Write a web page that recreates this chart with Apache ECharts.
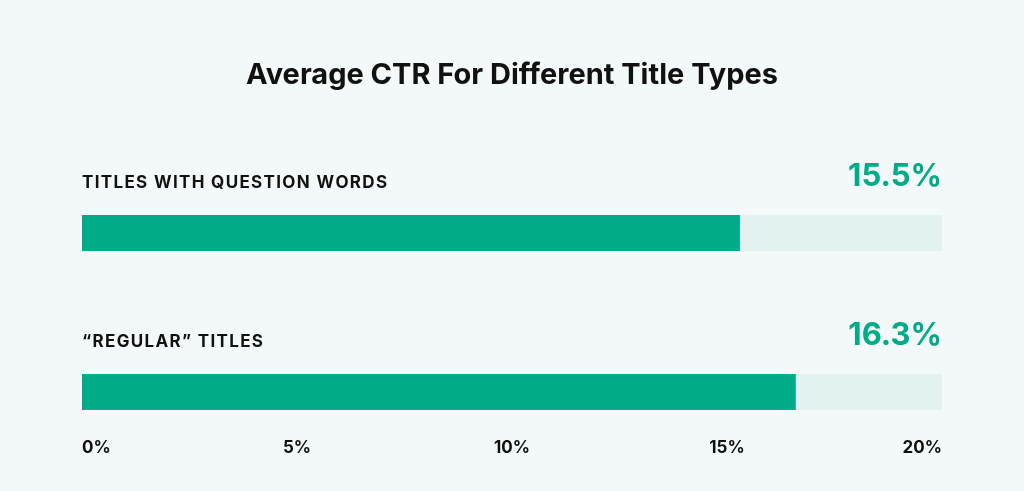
<!DOCTYPE html><html><head><meta charset="utf-8"><script src="https://cdn.jsdelivr.net/npm/echarts@6/dist/echarts.min.js"></script>
<style>html,body{margin:0;background:#f3f9f9}#c{width:1024px;height:491px}</style></head><body><div id="c"></div><script>
const categories=['TITLES WITH QUESTION WORDS','“REGULAR” TITLES'];
const barValues=[15.3,16.6];
const valueLabels=['15.5%','16.3%'];
const trackMax=[20,20];
const tickLabels=['0%','5%','10%','15%','20%'];
const green='#00ab87';
const chart=echarts.init(document.getElementById('c'));
chart.setOption({
 backgroundColor:'#f3f9f9',
 title:{text:'Average CTR For Different Title Types',left:'center',top:56,textStyle:{fontFamily:'Inter',fontSize:29,fontWeight:'bold',color:'#111'}},
 grid:{left:82,right:82,top:153.5,bottom:19.5},
 xAxis:{type:'value',min:0,max:20,interval:5,offset:-40,splitLine:{show:false},axisLine:{show:false},axisTick:{show:false},
  axisLabel:{margin:8,fontFamily:'Inter',fontSize:17,fontWeight:'bold',color:'#111',
   formatter:(v)=>tickLabels[v/5],alignMinLabel:'left',alignMaxLabel:'right'}},
 yAxis:{type:'category',data:categories,inverse:true,show:false},
 series:[
  {type:'bar',data:trackMax,barWidth:36,itemStyle:{color:'#e2f3ef'},silent:true,
   label:{show:true,position:['100%',-38],align:'right',verticalAlign:'middle',fontFamily:'Inter',fontSize:31,fontWeight:'bold',color:green,
    formatter:(p)=>valueLabels[p.dataIndex]}},
  {type:'bar',data:barValues,barWidth:36,barGap:'-100%',itemStyle:{color:green},
   label:{show:true,position:[0,-32],align:'left',verticalAlign:'middle',fontFamily:'Inter',fontSize:17,fontWeight:'bold',color:'#111',
    formatter:(p)=>categories[p.dataIndex].split('').join('\u200A')}}
 ]
});
</script></body></html>
